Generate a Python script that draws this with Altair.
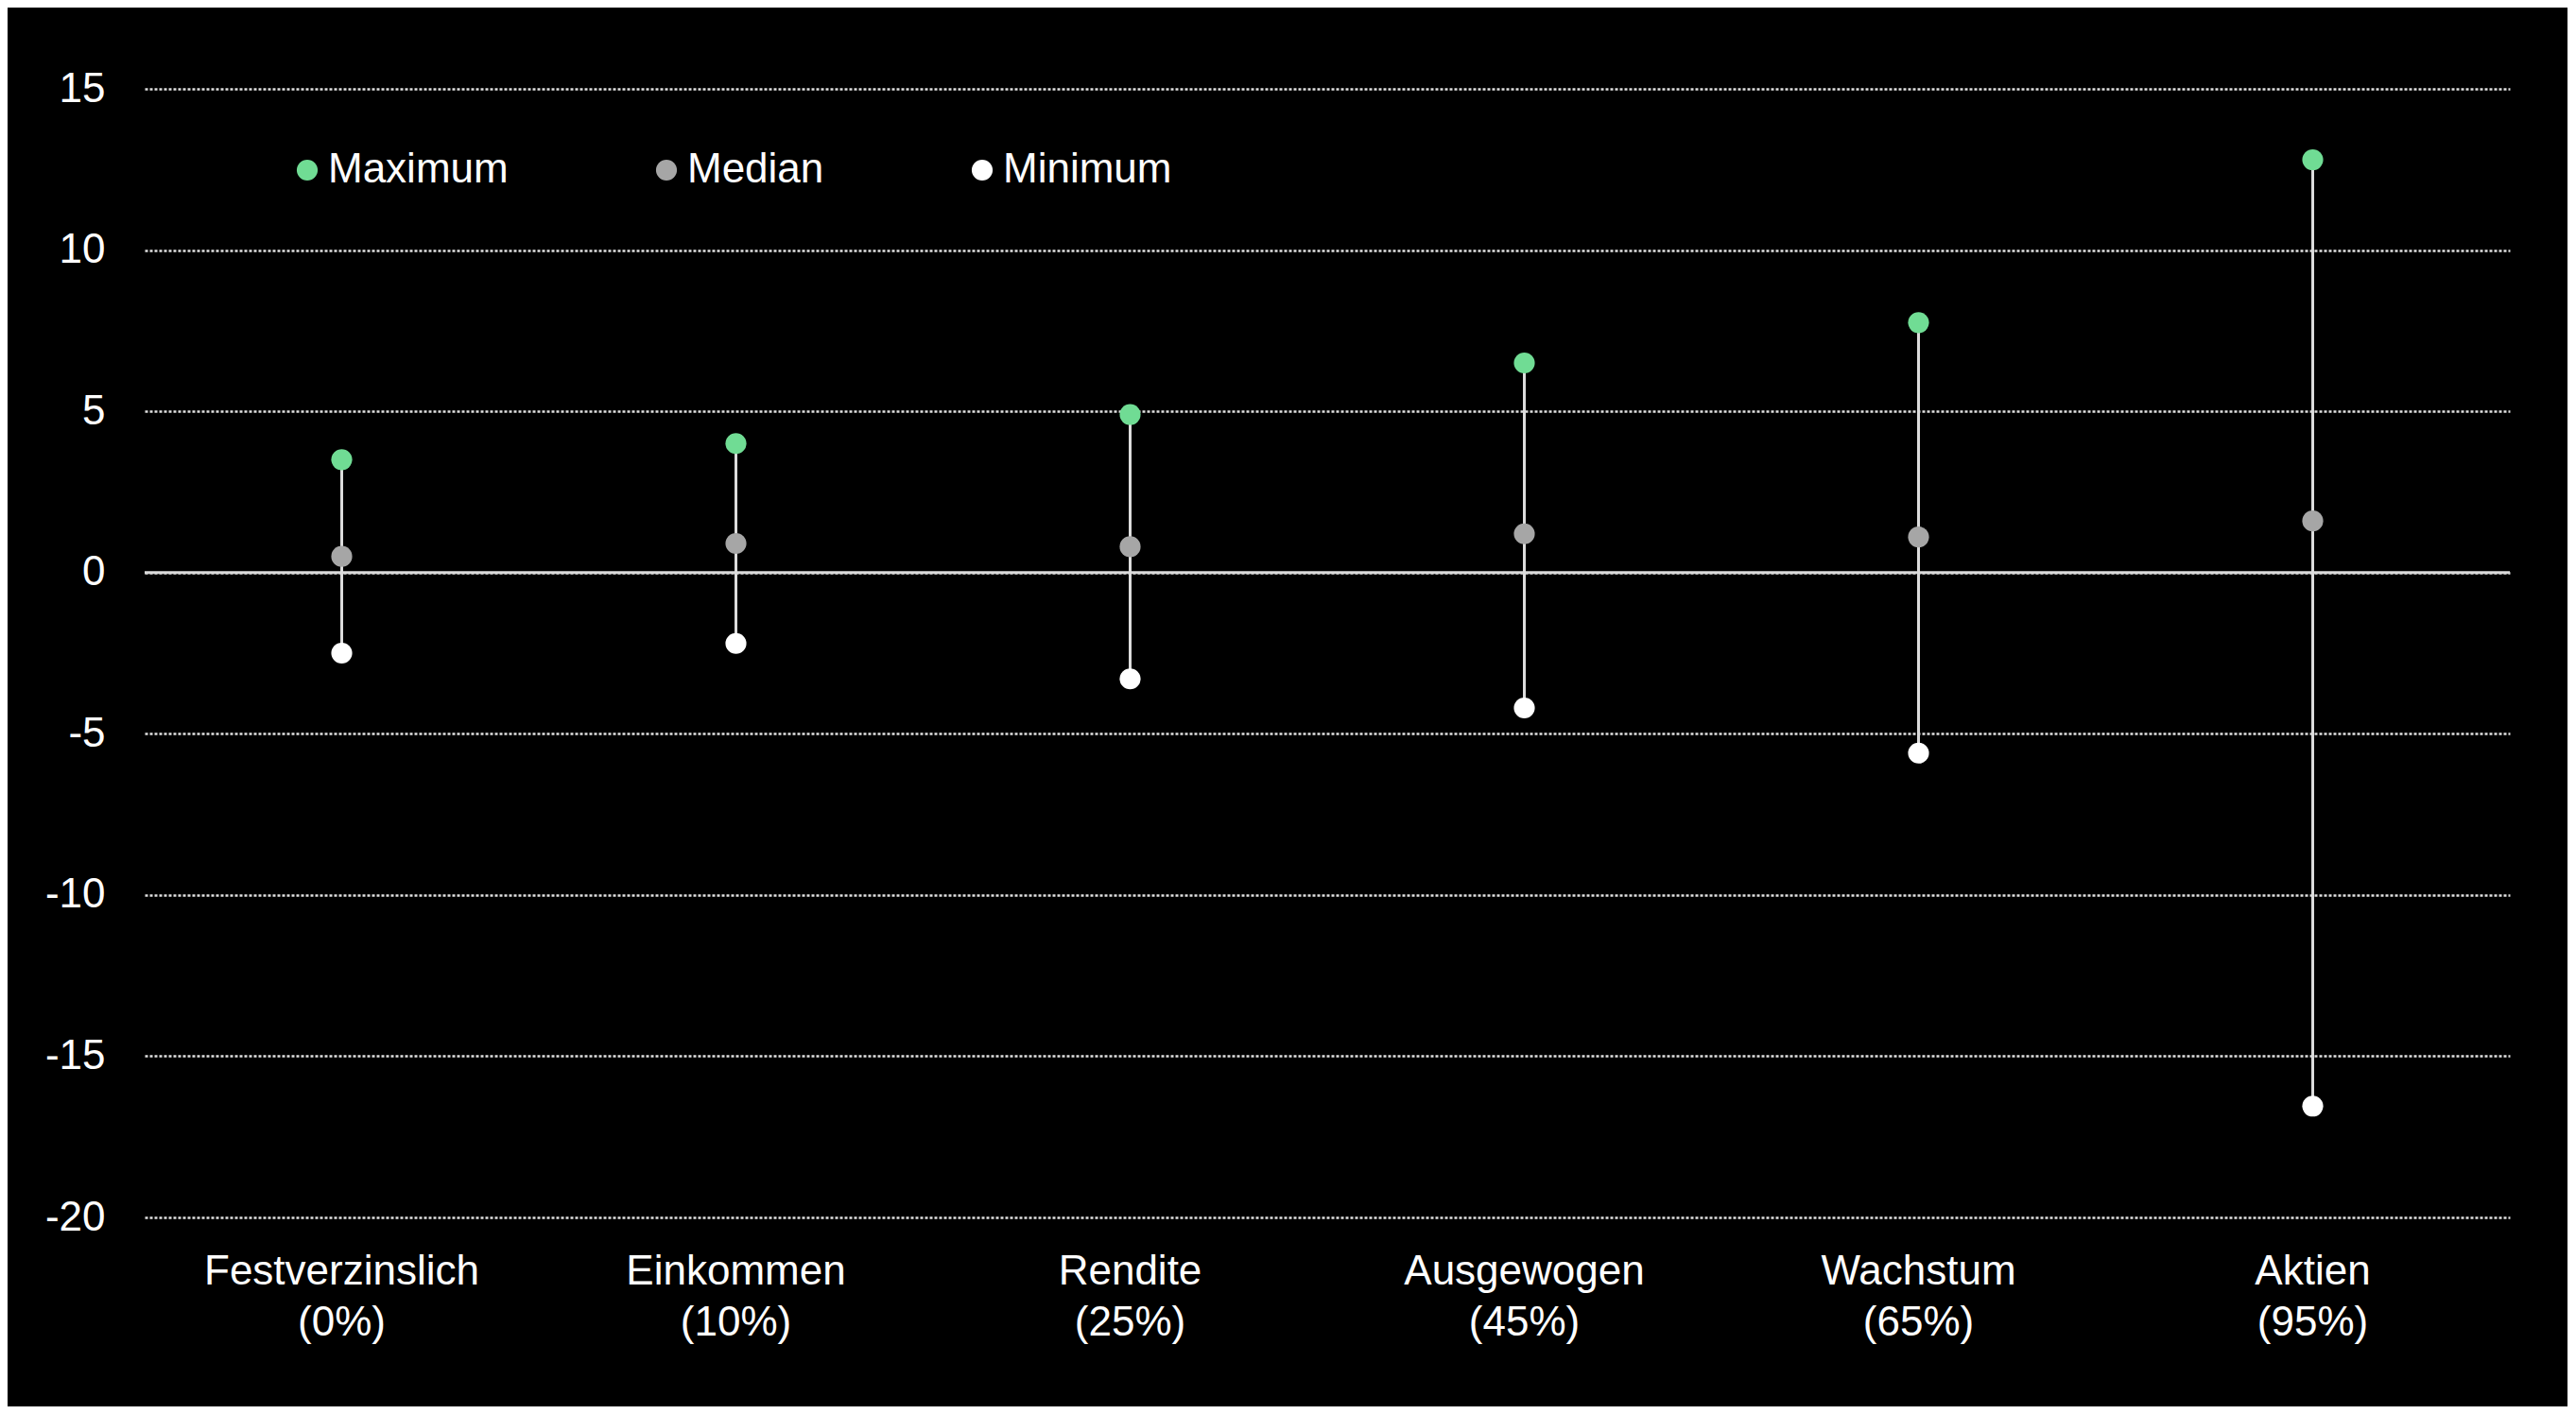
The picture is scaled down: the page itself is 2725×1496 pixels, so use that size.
import altair as alt
import pandas as pd

categories = ["Festverzinslich (0%)", "Einkommen (10%)", "Rendite (25%)",
              "Ausgewogen (45%)", "Wachstum (65%)", "Aktien (95%)"]
maximum = [3.5, 4.0, 4.9, 6.5, 7.75, 12.8]
median = [0.5, 0.9, 0.8, 1.2, 1.1, 1.6]
minimum = [-2.5, -2.2, -3.3, -4.2, -5.6, -16.55]

series_names = ["Maximum", "Median", "Minimum"]
series_colors = ["#70dc94", "#a6a6a6", "#ffffff"]
y_ticks = [-20, -15, -10, -5, 0, 5, 10, 15]

FONT = "Liberation Sans"

wide = pd.DataFrame({"cat": categories, "max": maximum, "med": median, "min": minimum})
long_rows = []
for c, a, m, b in zip(categories, maximum, median, minimum):
    long_rows.append({"cat": c, "stat": "Maximum", "value": a})
    long_rows.append({"cat": c, "stat": "Median", "value": m})
    long_rows.append({"cat": c, "stat": "Minimum", "value": b})
long = pd.DataFrame(long_rows)
zero = pd.DataFrame({"z": [0]})

x_enc = alt.X("cat:N", sort=categories, title=None,
              scale=alt.Scale(paddingInner=0, paddingOuter=0),
              axis=alt.Axis(labelExpr="split(datum.label, ' ')", labelAngle=0,
                            labelFontSize=44, labelFont=FONT, labelColor="#ffffff",
                            labelLineHeight=54, labelPadding=35, labelLimit=0,
                            ticks=False, tickSize=0, domain=False, grid=False))

y_scale = alt.Scale(domain=[-20, 15], nice=False, zero=False)
y_axis = alt.Axis(values=y_ticks, title=None,
                  labelExpr="datum.value < 0 ? '-' + abs(datum.value) : '' + datum.value",
                  labelFontSize=44, labelFont=FONT, labelColor="#ffffff", labelPadding=42,
                  labelLimit=0, ticks=False, tickSize=0, domain=False,
                  grid=True, gridColor="#e0e0e0", gridDash=[3, 2], gridWidth=2.5)

grid_layer = alt.Chart(zero).mark_rule(opacity=0).encode(
    y=alt.Y("z:Q", scale=y_scale, axis=y_axis)
)

zero_line = alt.Chart(zero).mark_rule(color="#d9d9d9", strokeWidth=3).encode(
    y=alt.Y("z:Q", scale=y_scale)
)

stems = alt.Chart(wide).mark_rule(color="#dcdcdc", strokeWidth=3).encode(
    x=x_enc,
    y=alt.Y("min:Q", scale=y_scale),
    y2="max:Q",
)

points = alt.Chart(long).mark_point(filled=True, opacity=1, size=490, shape="circle").encode(
    x=alt.X("cat:N", sort=categories),
    y=alt.Y("value:Q", scale=y_scale),
    color=alt.Color("stat:N",
                    scale=alt.Scale(domain=series_names, range=series_colors),
                    legend=alt.Legend(title=None, orient="none", legendX=150, legendY=64,
                                      direction="horizontal", columns=3, columnPadding=145,
                                      symbolType="circle", symbolSize=490, symbolStrokeWidth=0,
                                      labelFontSize=44, labelFont=FONT, labelColor="#ffffff",
                                      labelOffset=0, labelLimit=0, padding=0)),
)

chart = alt.layer(grid_layer, zero_line, stems, points).properties(
    width=2502, height=1194,
    background="#000000",
    autosize=alt.AutoSizeParams(type="none"),
    padding={"left": 145, "top": 86, "right": 61, "bottom": 200},
).configure_view(strokeWidth=0)

chart.save("out.html", embed_options={"renderer": "svg", "actions": False})
